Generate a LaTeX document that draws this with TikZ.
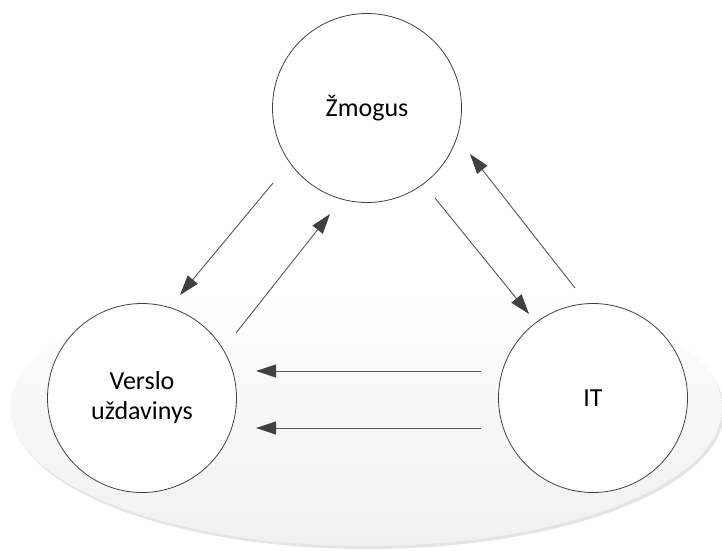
\documentclass[tikz,border=0pt]{standalone}
\usepackage{fontspec}
\setmainfont{Carlito}
\usetikzlibrary{arrows.meta}
\definecolor{linegray}{RGB}{85,85,85}
\definecolor{tipgray}{RGB}{64,64,64}
\definecolor{rimgray}{RGB}{228,228,228}
\definecolor{bottomgray}{RGB}{241,241,241}
\definecolor{midgray}{RGB}{247,247,247}
\definecolor{highgray}{RGB}{252,252,252}
\pgfdeclareverticalshading{bgshade}{100bp}{color(0bp)=(bottomgray); color(25bp)=(bottomgray); color(50bp)=(midgray); color(62bp)=(highgray); color(72bp)=(white); color(100bp)=(white)}
\tikzset{
  bubble/.style={circle, draw=tipgray, line width=0.8pt, fill=white,
    minimum size=189pt, inner sep=0pt, align=center,
    font=\fontsize{26}{30}\selectfont},
  flow/.style={draw=linegray, line width=0.9pt,
    -{Triangle[length=20pt,width=13pt,fill=tipgray,color=tipgray]}},
}
\begin{document}
\begin{tikzpicture}[x=1pt,y=-1pt]
\useasboundingbox (0,0) rectangle (722,550);
% background ellipse with light rim at the lower side
\fill[rimgray] (368,411) ellipse [x radius=356, y radius=138];
\shade[shading=bgshade] (366,408) ellipse [x radius=356, y radius=138];
% circles
\node[bubble] (z) at (367,108) {Žmogus};
\node[bubble] (v) at (142,398) {Verslo\\uždavinys};
\node[bubble] (it) at (593,398) {IT};
% connector end points
\coordinate (zv1) at (273,183);
\coordinate (zv2) at (180,295);
\coordinate (vz1) at (236,333);
\coordinate (vz2) at (330,214);
\coordinate (zi1) at (435,198);
\coordinate (zi2) at (529,314);
\coordinate (iz1) at (575,288);
\coordinate (iz2) at (470,154);
\coordinate (iv1) at (481,371);
\coordinate (iv2) at (256,371);
\coordinate (iv3) at (481,428);
\coordinate (iv4) at (256,428);
% connectors
\draw[flow] (zv1) -- (zv2);
\draw[flow] (vz1) -- (vz2);
\draw[flow] (zi1) -- (zi2);
\draw[flow] (iz1) -- (iz2);
\draw[flow] (iv1) -- (iv2);
\draw[flow] (iv3) -- (iv4);
\end{tikzpicture}
\end{document}
